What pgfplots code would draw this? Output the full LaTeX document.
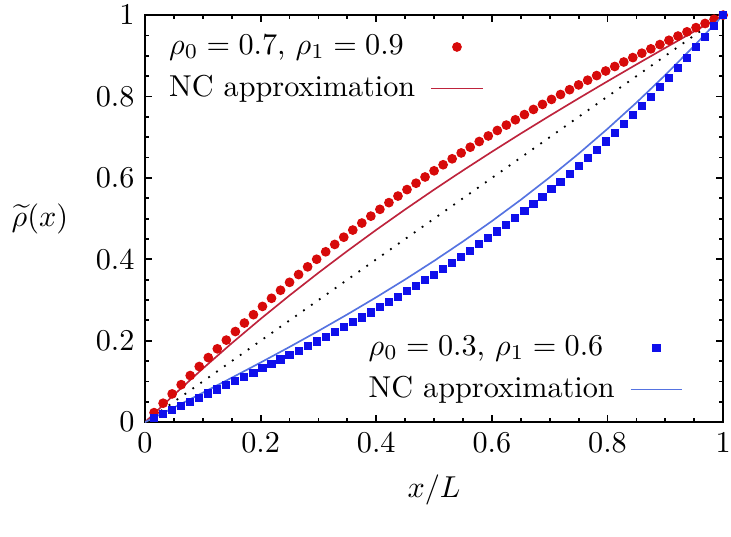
\documentclass[border=0pt]{standalone}
\usepackage{pgfplots}
\pgfplotsset{compat=1.18}

\definecolor{reddot}{RGB}{215,10,10}
\definecolor{redline}{RGB}{190,35,60}
\definecolor{bluesq}{RGB}{15,15,235}
\definecolor{blueline}{RGB}{85,115,225}

% simulation data, x = i/64
\pgfplotstableread{
x        high     low
0.015625 0.02340  0.00999
0.03125  0.04655  0.01999
0.046875 0.06946  0.03000
0.0625   0.09212  0.04001
0.078125 0.11453  0.05006
0.09375  0.13668  0.06014
0.109375 0.15857  0.07026
0.125    0.18020  0.08043
0.140625 0.20156  0.09066
0.15625  0.22266  0.10096
0.171875 0.24349  0.11134
0.1875   0.26404  0.12180
0.203125 0.28432  0.13236
0.21875  0.30433  0.14302
0.234375 0.32406  0.15379
0.25     0.34352  0.16469
0.265625 0.36269  0.17571
0.28125  0.38159  0.18687
0.296875 0.40022  0.19818
0.3125   0.41856  0.20964
0.328125 0.43663  0.22127
0.34375  0.45442  0.23307
0.359375 0.47194  0.24505
0.375    0.48918  0.25723
0.390625 0.50616  0.26960
0.40625  0.52286  0.28218
0.421875 0.53929  0.29497
0.4375   0.55545  0.30799
0.453125 0.57135  0.32125
0.46875  0.58699  0.33474
0.484375 0.60237  0.34849
0.5      0.61750  0.36250
0.515625 0.63238  0.37678
0.53125  0.64700  0.39133
0.546875 0.66139  0.40617
0.5625   0.67553  0.42130
0.578125 0.68944  0.43674
0.59375  0.70312  0.45249
0.609375 0.71658  0.46856
0.625    0.72981  0.48496
0.640625 0.74283  0.50170
0.65625  0.75565  0.51878
0.671875 0.76826  0.53622
0.6875   0.78067  0.55403
0.703125 0.79290  0.57221
0.71875  0.80494  0.59077
0.734375 0.81681  0.60971
0.75     0.82852  0.62906
0.765625 0.84006  0.64882
0.78125  0.85145  0.66899
0.796875 0.86270  0.68959
0.8125   0.87381  0.71062
0.828125 0.88479  0.73209
0.84375  0.89566  0.75402
0.859375 0.90642  0.77640
0.875    0.91707  0.79926
0.890625 0.92764  0.82259
0.90625  0.93814  0.84641
0.921875 0.94856  0.87072
0.9375   0.95892  0.89553
0.953125 0.96923  0.92086
0.96875  0.97951  0.94671
0.984375 0.98976  0.97308
1.0      1.00000  1.00000
}\simdata

% NC approximation
\pgfplotstableread{
x     high     low
0.00  0.00000  0.00000
0.05  0.06717  0.03606
0.10  0.13177  0.07237
0.15  0.19392  0.10914
0.20  0.25376  0.14656
0.25  0.31141  0.18484
0.30  0.36699  0.22419
0.35  0.42064  0.26480
0.40  0.47248  0.30688
0.45  0.52264  0.35063
0.50  0.57125  0.39625
0.55  0.61843  0.44395
0.60  0.66432  0.49392
0.65  0.70904  0.54637
0.70  0.75271  0.60151
0.75  0.79547  0.65953
0.80  0.83744  0.72064
0.85  0.87875  0.78504
0.90  0.91953  0.85293
0.95  0.95990  0.92452
1.00  1.00000  1.00000
}\ncdata

\pgfplotsset{
  common/.style={
    scale only axis,
    width=191.3pt, height=134.7pt,
    xmin=0, xmax=1, ymin=0, ymax=1,
    enlargelimits=false,
  },
  leg/.style={
    legend plot pos=right,
    legend cell align=left,
    legend style={draw=none, fill=none, row sep=1.5pt, inner sep=1pt},
  },
}

\begin{document}
\begin{tikzpicture}
\useasboundingbox (-48pt,-37.7pt) rectangle (193.9pt,139.7pt);

\begin{axis}[common, leg,
  axis line style={line width=0.7pt},
  xtick={0,0.2,...,1}, ytick={0,0.2,...,1},
  minor x tick num=3, minor y tick num=3,
  major tick length=2.4pt, minor tick length=1.3pt,
  tick style={line width=0.6pt, black},
  tick align=inside,
  xlabel={$x/L$}, ylabel={$\widetilde{\rho}(x)$},
  every axis x label/.style={at={(axis description cs:0.5,-0.167)}, anchor=center},
  every axis y label/.style={at={(axis description cs:-0.182,0.5)}, anchor=center},
  legend style={at={(axis description cs:0.025,0.975)}, anchor=north west},
]
\addplot[black, line width=0.6pt, dash pattern=on 0.6pt off 2.6pt, forget plot]
  coordinates {(0,0) (1,1)};
\addplot[only marks, mark=*, mark size=1.4pt, reddot, mark options={draw=reddot, fill=reddot}]
  table[x=x, y=high] {\simdata};
\addlegendentry{$\rho_0=0.7$, $\rho_1=0.9$\hspace*{3pt}\mbox{}}
\addplot[redline, line width=0.55pt, no marks]
  table[x=x, y=high] {\ncdata};
\addlegendentry{NC approximation\hspace*{3pt}\mbox{}}
\end{axis}

\begin{axis}[common, leg, hide axis,
  legend style={at={(axis description cs:0.937,0.025)}, anchor=south east},
]
\addplot[blueline, line width=0.55pt, no marks, forget plot]
  table[x=x, y=low] {\ncdata};
\addplot[only marks, mark=square*, mark size=1.15pt, bluesq, mark options={draw=bluesq, fill=bluesq}]
  table[x=x, y=low] {\simdata};
\addlegendentry{$\rho_0=0.3$, $\rho_1=0.6$\hspace*{3pt}\mbox{}}
\addlegendimage{blueline, line width=0.55pt, no marks}
\addlegendentry{NC approximation\hspace*{3pt}\mbox{}}
\end{axis}
\end{tikzpicture}
\end{document}
